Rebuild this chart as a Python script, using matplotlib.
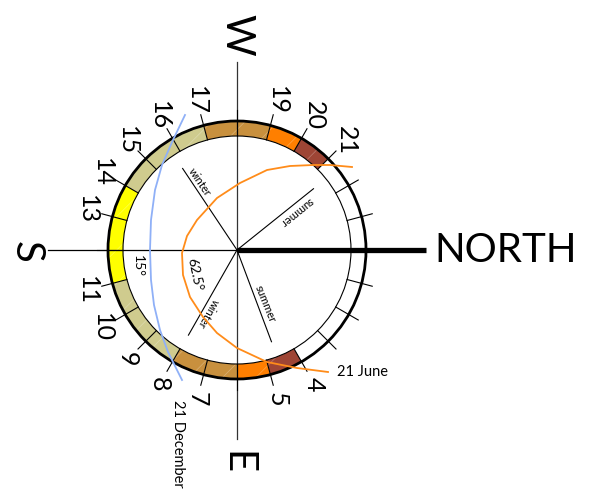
import numpy as np
import matplotlib
matplotlib.use('Agg')
import matplotlib.pyplot as plt
from matplotlib.patches import Wedge, Circle

plt.rcParams['font.family'] = ['Lato', 'DejaVu Sans']
plt.rcParams['hatch.linewidth'] = 0.5

# hour of day for every slot on the ring, and the colour of the hour starting there
hours = list(range(24))
slot_colors = {4: '#9e4535', 5: '#ff7f00', 6: '#c8903e', 7: '#c8903e',
               8: '#cfcb8e', 9: '#cfcb8e', 10: '#cfcb8e',
               11: '#ffff00', 12: '#ffff00', 13: '#ffff00',
               14: '#cfcb8e', 15: '#cfcb8e', 16: '#cfcb8e',
               17: '#c8903e', 18: '#c8903e', 19: '#ff7f00', 20: '#9e4535'}
hour_labels = [4, 5, 7, 8, 9, 10, 11, 13, 14, 15, 16, 17, 19, 20, 21]

# sun paths (px from the centre, y up)
june_x = [115, 93, 76, 53, 30, 3, -20, -40, -50, -55, -54, -47, -34, -20, 0, 30, 60, 91]
june_y = [83, 85, 85, 84, 80, 67, 52, 30, 14, -3, -25, -47, -67, -83, -98, -112, -118, -122]
dec_x = [-52, -64, -75, -82, -86, -87, -86, -83, -77, -69, -55]
dec_y = [135, 110, 85, 60, 30, 0, -30, -55, -80, -102, -130]

# sunrise / sunset directions (deg from north, ccw) and length
winter_dirs = [123.7, 240.3]
summer_dirs = [38.7, 290.6]
dir_len = 98

noon_alt = ['15°', '62.5°']

R_IN, R_OUT, R_TICK, R_LAB = 114, 129, 140, 155


def hour_angle(h):
    return (360 - 15 * h) % 360


fig = plt.figure(figsize=(5.94, 4.96), dpi=100)
ax = fig.add_axes([0, 0, 1, 1])
ax.set_xlim(-237, 357)
ax.set_ylim(-246, 250)
ax.set_aspect('equal')
ax.axis('off')

# coloured ring, with a faint brushed texture on the coloured hours
for h in hours:
    c = slot_colors.get(h, 'white')
    a2 = hour_angle(h)
    a1 = a2 - 15
    ax.add_patch(Wedge((0, 0), R_OUT, a1, a2, width=R_OUT - R_IN,
                       facecolor=c, edgecolor='none', zorder=1))
    if h in slot_colors:
        ax.add_patch(Wedge((0, 0), R_OUT, a1, a2, width=R_OUT - R_IN, facecolor='none',
                           edgecolor=(1, 1, 1, 0.3), lw=0, hatch='/', zorder=1.5))

ax.add_patch(Circle((0, 0), R_OUT, fill=False, lw=2.0, ec='black', zorder=3))
ax.add_patch(Circle((0, 0), R_IN, fill=False, lw=0.8, ec='black', zorder=3))

# hour ticks
for h in hours:
    t = np.radians(hour_angle(h))
    ax.plot([R_IN * np.cos(t), R_TICK * np.cos(t)], [R_IN * np.sin(t), R_TICK * np.sin(t)],
            color='black', lw=0.8, zorder=3)

for h in hour_labels:
    t = np.radians(hour_angle(h))
    ax.text(R_LAB * np.cos(t), R_LAB * np.sin(t), str(h), rotation=-90,
            ha='center', va='center', fontsize=18, zorder=5)

# axes of the compass
ax.plot([0, 0], [-189, 188], color='#333333', lw=0.9, zorder=2)
ax.plot([-189, 0], [0, 0], color='black', lw=0.9, zorder=2)
ax.plot([0, 189], [0, 0], color='black', lw=3.8, zorder=4, solid_capstyle='butt')

ax.text(0, 215, 'W', rotation=-90, ha='center', va='center', fontsize=29)
ax.text(-211, -2, 'S', rotation=-90, ha='center', va='center', fontsize=29)
ax.text(0, -213, 'E', rotation=-90, ha='center', va='center', fontsize=29)
ax.text(197, -1, 'NORTH', ha='left', va='center', fontsize=29)

# sunrise / sunset lines
for d in winter_dirs + summer_dirs:
    t = np.radians(d)
    ax.plot([0, dir_len * np.cos(t)], [0, dir_len * np.sin(t)], color='black', lw=0.8, zorder=2)

ax.text(-37, 68, 'winter', rotation=-56, ha='center', va='center', fontsize=8)
ax.text(-29, -63, 'winter', rotation=-120, ha='center', va='center', fontsize=8)
ax.text(60, 38, 'summer', rotation=-141, ha='center', va='center', fontsize=8)
ax.text(28, -54, 'summer', rotation=-68, ha='center', va='center', fontsize=8)

ax.text(-99, -16, noon_alt[0], rotation=-90, ha='center', va='center', fontsize=10)
ax.text(-42, -24, noon_alt[1], rotation=-78, ha='center', va='center', fontsize=10)

# sun paths
ax.plot(june_x, june_y, color='#ff8c1a', lw=1.3, zorder=6)
ax.plot(dec_x, dec_y, color='#8fb0f7', lw=1.3, zorder=6)
ax.text(100, -122, '21 June', ha='left', va='center', fontsize=10.5)
ax.text(-59, -194, '21 December', rotation=-90, ha='center', va='center', fontsize=10.5)

fig.savefig('out.png', dpi=100)
